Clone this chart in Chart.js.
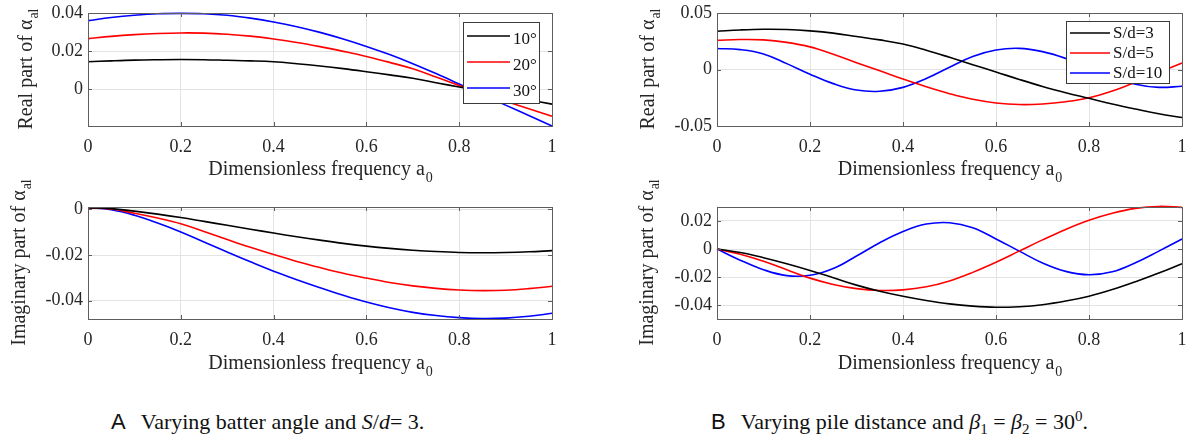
<!DOCTYPE html>
<html>
<head>
<meta charset="utf-8">
<script src="https://cdn.jsdelivr.net/npm/chart.js@4.4.1/dist/chart.umd.min.js"></script>
<style>
  html, body { margin: 0; padding: 0; background: #fff; }
  #wrap { position: relative; width: 1186px; height: 441px; overflow: hidden; }
  canvas { position: absolute; }
  .cap { position: absolute; top: 410px; font: 22px "Liberation Serif", serif; color: #111; white-space: nowrap; line-height: 24px; }
  .cap .lab { font-family: "Liberation Sans", sans-serif; font-size: 22px; margin-right: 15px; }
  .cap sub, .cap sup { font-size: 15px; line-height: 0; }
</style>
</head>
<body>
<div id="wrap">
  <canvas id="aRe" width="593" height="190" style="left:0;top:0"></canvas>
  <canvas id="aIm" width="593" height="225" style="left:0;top:160px"></canvas>
  <canvas id="bRe" width="593" height="190" style="left:593px;top:0"></canvas>
  <canvas id="bIm" width="593" height="225" style="left:593px;top:160px"></canvas>
  <div class="cap" style="left:111px"><span class="lab">A</span>Varying batter angle and <i>S</i>/<i>d</i>= 3.</div>
  <div class="cap" style="left:711px"><span class="lab">B</span>Varying pile distance and <i>β</i><sub>1</sub> = <i>β</i><sub>2</sub> = 30<sup>0</sup>.</div>
</div>
<script>
// dimensionless frequency a0 (shared by every panel)
const freq = [0, 0.05, 0.1, 0.15, 0.2, 0.25, 0.3, 0.35, 0.4, 0.45, 0.5,
              0.55, 0.6, 0.65, 0.7, 0.75, 0.8, 0.85, 0.9, 0.95, 1];
const xTicks = [0, 0.2, 0.4, 0.6, 0.8, 1];

// A: varying batter angle, S/d = 3
const angleLabels = ["10°", "20°", "30°"];
const reA10 = [0.0145, 0.0150, 0.0154, 0.0156, 0.0157, 0.0156, 0.0153, 0.0150, 0.0145, 0.0135, 0.0123,
               0.0109, 0.0093, 0.0076, 0.0058, 0.0035, 0.0012, -0.0010, -0.0033, -0.0056, -0.0078];
const reA20 = [0.0267, 0.0279, 0.0288, 0.0294, 0.0297, 0.0296, 0.0290, 0.0280, 0.0265, 0.0247, 0.0225,
               0.0200, 0.0173, 0.0142, 0.0108, 0.0065, 0.0020, -0.0022, -0.0062, -0.0102, -0.0142];
const reA30 = [0.0362, 0.0378, 0.0390, 0.0398, 0.0400, 0.0398, 0.0390, 0.0375, 0.0355, 0.0330, 0.0300,
               0.0265, 0.0226, 0.0183, 0.0135, 0.0083, 0.0028, -0.0028, -0.0083, -0.0138, -0.0193];
const imA10 = [0.0007, 0.0003, -0.0008, -0.0021, -0.0036, -0.0053, -0.0070, -0.0087, -0.0104, -0.0120, -0.0135,
               -0.0149, -0.0161, -0.0171, -0.0179, -0.0185, -0.0189, -0.0190, -0.0189, -0.0186, -0.0181];
const imA20 = [0.0007, 0.0001, -0.0017, -0.0038, -0.0063, -0.0097, -0.0132, -0.0166, -0.0198, -0.0228, -0.0255,
               -0.0280, -0.0301, -0.0320, -0.0335, -0.0346, -0.0353, -0.0356, -0.0354, -0.0347, -0.0337];
const imA30 = [0.0007, -0.0002, -0.0026, -0.0060, -0.0099, -0.0143, -0.0187, -0.0230, -0.0271, -0.0308, -0.0343,
               -0.0376, -0.0406, -0.0431, -0.0451, -0.0465, -0.0474, -0.0478, -0.0476, -0.0468, -0.0455];

// B: varying pile distance, beta1 = beta2 = 30
const distLabels = ["S/d=3", "S/d=5", "S/d=10"];
const reB3 = [0.0339, 0.0350, 0.0356, 0.0354, 0.0342, 0.0322, 0.0292, 0.0262, 0.0225, 0.0170, 0.0108,
              0.0043, -0.0022, -0.0088, -0.0150, -0.0205, -0.0255, -0.0305, -0.0350, -0.0392, -0.0425];
const reB5 = [0.0259, 0.0265, 0.0262, 0.0240, 0.0200, 0.0135, 0.0060, -0.0012, -0.0085, -0.0153, -0.0214,
              -0.0264, -0.0296, -0.0310, -0.0305, -0.0285, -0.0250, -0.0190, -0.0112, -0.0028, 0.0058];
const reB10 = [0.0186, 0.0176, 0.0138, 0.0052, -0.0042, -0.0125, -0.0182, -0.0193, -0.0158, -0.0080, 0.0020,
               0.0115, 0.0172, 0.0187, 0.0158, 0.0098, 0.0018, -0.0065, -0.0130, -0.0158, -0.0148];
const imB3 = [0.0000, -0.0025, -0.0062, -0.0105, -0.0153, -0.0205, -0.0258, -0.0302, -0.0338, -0.0368, -0.0392,
              -0.0408, -0.0416, -0.0412, -0.0398, -0.0372, -0.0337, -0.0290, -0.0234, -0.0172, -0.0105];
const imB5 = [0.0000, -0.0038, -0.0088, -0.0148, -0.0208, -0.0253, -0.0283, -0.0296, -0.0292, -0.0270, -0.0228,
              -0.0167, -0.0095, -0.0015, 0.0065, 0.0140, 0.0205, 0.0255, 0.0290, 0.0304, 0.0297];
const imB10 = [0.0000, -0.0080, -0.0148, -0.0190, -0.0188, -0.0140, -0.0050, 0.0045, 0.0125, 0.0178, 0.0188,
               0.0152, 0.0072, -0.0015, -0.0100, -0.0160, -0.0184, -0.0163, -0.0098, -0.0015, 0.0071];

const lineColors = ["#000000", "#ff0000", "#0000ff"];
const SERIF = "'Liberation Serif', 'DejaVu Serif', serif";

// MATLAB-like box, inward ticks, axis titles with subscripts and a boxed legend
const matlabLook = {
  id: "matlabLook",
  afterDatasetsDraw(chart) {
    const { ctx, chartArea: a, scales } = chart;
    ctx.save();
    ctx.strokeStyle = "#5e5e5e";
    ctx.lineWidth = 1;
    ctx.strokeRect(Math.round(a.left) + 0.5, Math.round(a.top) + 0.5,
                   Math.round(a.right - a.left), Math.round(a.bottom - a.top));
    ctx.beginPath();
    scales.x.ticks.forEach((t) => {
      const px = Math.round(scales.x.getPixelForValue(t.value)) + 0.5;
      ctx.moveTo(px, a.bottom); ctx.lineTo(px, a.bottom - 4);
      ctx.moveTo(px, a.top); ctx.lineTo(px, a.top + 4);
    });
    scales.y.ticks.forEach((t) => {
      const py = Math.round(scales.y.getPixelForValue(t.value)) + 0.5;
      ctx.moveTo(a.left, py); ctx.lineTo(a.left + 4, py);
      ctx.moveTo(a.right, py); ctx.lineTo(a.right - 4, py);
    });
    ctx.stroke();
    ctx.restore();
  },
  afterDraw(chart, args, opts) {
    const { ctx, chartArea: a } = chart;
    ctx.save();
    ctx.fillStyle = "#262626";
    ctx.textBaseline = "alphabetic";

    // x title: Dimensionless frequency a0
    ctx.font = "20px " + SERIF;
    const xMain = "Dimensionless frequency a";
    const wMain = ctx.measureText(xMain).width;
    ctx.font = "14px " + SERIF;
    const wSub = ctx.measureText("0").width;
    let x0 = (a.left + a.right) / 2 - (wMain + wSub) / 2;
    const yb = a.bottom + opts.xGap;
    ctx.font = "20px " + SERIF;
    ctx.fillText(xMain, x0, yb);
    ctx.font = "14px " + SERIF;
    ctx.fillText("0", x0 + wMain + 1, yb + 7);

    // y title, rotated, with subscript al
    ctx.font = "20px " + SERIF;
    const yMain = opts.yText;
    const wy = ctx.measureText(yMain).width;
    ctx.font = "14px " + SERIF;
    const wys = ctx.measureText("al").width;
    ctx.translate(a.left - opts.yGap, (a.top + a.bottom) / 2);
    ctx.rotate(-Math.PI / 2);
    const s0 = -(wy + wys) / 2;
    ctx.font = "20px " + SERIF;
    ctx.fillText(yMain, s0, 0);
    ctx.font = "14px " + SERIF;
    ctx.fillText("al", s0 + wy + 1, 6);
    ctx.restore();

    // legend
    const lg = opts.legend;
    if (!lg) return;
    ctx.save();
    ctx.fillStyle = "#fff";
    ctx.fillRect(lg.x, lg.y, lg.w, lg.h);
    ctx.strokeStyle = "#3a3a3a";
    ctx.lineWidth = 1;
    ctx.strokeRect(lg.x + 0.5, lg.y + 0.5, lg.w, lg.h);
    ctx.font = lg.font + "px " + SERIF;
    ctx.textBaseline = "middle";
    chart.data.datasets.forEach((ds, i) => {
      const yy = lg.y + lg.first + i * lg.gap;
      ctx.strokeStyle = ds.borderColor;
      ctx.lineWidth = 1.6;
      ctx.beginPath();
      ctx.moveTo(lg.x + 4, yy);
      ctx.lineTo(lg.x + 4 + lg.len, yy);
      ctx.stroke();
      ctx.fillStyle = "#111";
      ctx.fillText(ds.label, lg.x + 7 + lg.len, yy + lg.textDy);
    });
    ctx.restore();
  },
};

function panel(id, labels, series, yMin, yMax, yTicks, box, titles) {
  const canvas = document.getElementById(id);
  const datasets = series.map((vals, i) => ({
    label: labels[i],
    data: freq.map((f, k) => ({ x: f, y: vals[k] })),
    borderColor: lineColors[i],
    borderWidth: 1.6,
    pointRadius: 0,
    tension: 0.4,
    fill: false,
    clip: 3,
  }));
  return new Chart(canvas.getContext("2d"), {
    type: "line",
    data: { datasets },
    plugins: [matlabLook],
    options: {
      responsive: false,
      animation: false,
      devicePixelRatio: 1,
      layout: { padding: { left: 0, top: box.top, right: canvas.width - box.right, bottom: 0 } },
      plugins: {
        legend: { display: false },
        tooltip: { enabled: false },
        matlabLook: titles,
      },
      scales: {
        x: {
          type: "linear",
          min: 0,
          max: 1,
          afterBuildTicks: (s) => { s.ticks = xTicks.map((v) => ({ value: v })); },
          afterFit: (s) => {
            s.height = canvas.height - box.bottom;
            s.paddingLeft = 0;
            s.paddingRight = 0;
          },
          ticks: {
            font: { family: SERIF, size: 18 },
            color: "#262626",
            padding: 10,
            maxRotation: 0,
            callback: (v) => String(+(+v).toFixed(2)),
          },
          grid: { color: "#e3e3e3", drawTicks: false },
          border: { display: false },
        },
        y: {
          min: yMin,
          max: yMax,
          afterBuildTicks: (s) => { s.ticks = yTicks.map((v) => ({ value: v })); },
          afterFit: (s) => {
            s.width = box.left;
            s.paddingTop = 0;
            s.paddingBottom = 0;
          },
          ticks: {
            font: { family: SERIF, size: 18 },
            color: "#262626",
            padding: 5,
            callback: (v) => String(+(+v).toFixed(2)),
          },
          grid: { color: "#e3e3e3", drawTicks: false },
          border: { display: false },
        },
      },
    },
  });
}

panel("aRe", angleLabels, [reA10, reA20, reA30], -0.0193, 0.0402, [0, 0.02, 0.04],
  { left: 88, right: 552, top: 13, bottom: 126 },
  { yText: "Real part of α", yGap: 56, xGap: 49,
    legend: { x: 463, y: 22, w: 76, h: 81, first: 14, gap: 26, len: 43, font: 17, textDy: 4 } });

panel("aIm", angleLabels, [imA10, imA20, imA30], -0.0480, 0.0010, [-0.04, -0.02, 0],
  { left: 88, right: 552, top: 47, bottom: 159 },
  { yText: "Imaginary part of α", yGap: 63, xGap: 50 });

panel("bRe", distLabels, [reB3, reB5, reB10], -0.05, 0.05, [-0.05, 0, 0.05],
  { left: 124, right: 589, top: 13, bottom: 126 },
  { yText: "Real part of α", yGap: 63, xGap: 49,
    legend: { x: 473, y: 21, w: 103, h: 62, first: 12, gap: 20, len: 40, font: 17, textDy: 1 } });

panel("bIm", distLabels, [imB3, imB5, imB10], -0.05, 0.03, [-0.04, -0.02, 0, 0.02],
  { left: 124, right: 589, top: 47, bottom: 159 },
  { yText: "Imaginary part of α", yGap: 64, xGap: 50 });
</script>
</body>
</html>
